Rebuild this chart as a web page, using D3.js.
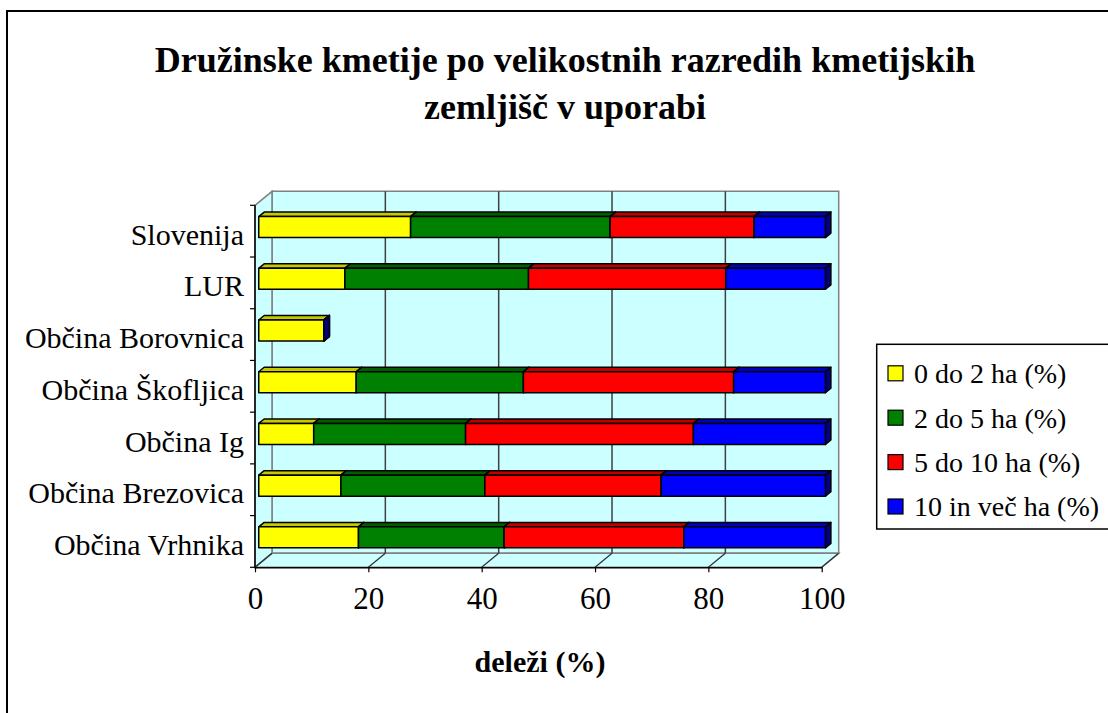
<!DOCTYPE html>
<html>
<head>
<meta charset="utf-8">
<script src="https://cdn.jsdelivr.net/npm/d3@7"></script>
<style>
  body { margin: 0; background: #fff; }
  text { font-family: "Liberation Serif", "Times New Roman", serif; }
</style>
</head>
<body>
<div id="chart"></div>
<script>
// podatki
var kategorije = ["Slovenija", "LUR", "Občina Borovnica", "Občina Škofljica", "Občina Ig", "Občina Brezovica", "Občina Vrhnika"];
var serije = ["0 do 2 ha (%)", "2 do 5 ha (%)", "5 do 10 ha (%)", "10 in več ha (%)"];
var s0do2 = [26.8, 15.2, 11.5, 17.2, 9.7, 14.5, 17.6];
var s2do5 = [35.2, 32.4, 0, 29.5, 26.8, 25.4, 25.7];
var s5do10 = [25.4, 34.8, 0, 37.1, 40.2, 31.1, 31.7];
var s10vec = [12.6, 17.6, 0, 16.2, 23.3, 29.0, 25.0];
var xTicks = [0, 20, 40, 60, 80, 100];

var vrednosti = [s0do2, s2do5, s5do10, s10vec];
var barve = ["#FFFF00", "#008000", "#FF0000", "#0000FF"];
var barveVrh = ["#C8C800", "#005E00", "#C00000", "#0000C0"];
var barveStran = ["#8C8C00", "#004000", "#800000", "#000080"];

var width = 1108, height = 713;
var globina = { dx: 17, dy: -14 };   // premik zadnje stene
var d0 = 0.22, d1 = 0.54;            // globina stolpcev

var svg = d3.select("#chart").append("svg")
  .attr("width", width)
  .attr("height", height);

// okvir
svg.append("rect")
  .attr("x", 7).attr("y", 11)
  .attr("width", 1120).attr("height", 720)
  .attr("fill", "#fff")
  .attr("stroke", "#000")
  .attr("stroke-width", 2);

// naslov
svg.append("text")
  .attr("x", 565).attr("y", 72)
  .attr("text-anchor", "middle")
  .style("font-size", "36px").style("font-weight", "bold")
  .text("Družinske kmetije po velikostnih razredih kmetijskih");
svg.append("text")
  .attr("x", 565).attr("y", 119)
  .attr("text-anchor", "middle")
  .style("font-size", "36px").style("font-weight", "bold")
  .text("zemljišč v uporabi");

var x = d3.scaleLinear().domain([0, 100]).range([255, 821.7]);
var y = d3.scaleBand().domain(kategorije).range([205.3, 567.3]);

var x0 = x(0), x1 = x(100), yTop = y.range()[0], yBot = y.range()[1];
var gx = globina.dx, gy = globina.dy;

function poly(pts) { return "M" + pts.map(function (p) { return p.join(","); }).join("L") + "Z"; }

// stene
svg.append("path")
  .attr("d", poly([[x0 + gx, yTop + gy], [x1 + gx, yTop + gy], [x1 + gx, yBot + gy], [x0 + gx, yBot + gy]]))
  .attr("fill", "#CCFFFF").attr("stroke", "#808080").attr("stroke-width", 1.5);
svg.append("path")
  .attr("d", poly([[x0, yTop], [x0 + gx, yTop + gy], [x0 + gx, yBot + gy], [x0, yBot]]))
  .attr("fill", "#CCFFFF").attr("stroke", "#808080").attr("stroke-width", 1.5);
svg.append("path")
  .attr("d", poly([[x0, yBot], [x0 + gx, yBot + gy], [x1 + gx, yBot + gy], [x1, yBot]]))
  .attr("fill", "#CCFFFF").attr("stroke", "#808080").attr("stroke-width", 1.5);

// mreža
var mreza = svg.append("g");
xTicks.slice(1, -1).forEach(function (t) {
  mreza.append("line")
    .attr("x1", x(t) + gx).attr("x2", x(t) + gx)
    .attr("y1", yTop + gy).attr("y2", yBot + gy)
    .attr("stroke", "#404040").attr("stroke-width", 1.5);
});
xTicks.forEach(function (t) {
  mreza.append("line")
    .attr("x1", x(t)).attr("x2", x(t) + gx)
    .attr("y1", yBot).attr("y2", yBot + gy)
    .attr("stroke", "#303030").attr("stroke-width", 1.2);
});

// osi
var ejeX = d3.axisBottom(x).tickValues(xTicks).tickSize(5).tickSizeOuter(0);
var gX = svg.append("g").attr("transform", "translate(0," + yBot + ")").call(ejeX);
gX.attr("font-family", null);
gX.select(".domain").attr("stroke", "#000").attr("stroke-width", 1.5);
gX.selectAll(".tick line").attr("stroke", "#000").attr("stroke-width", 1.2);
gX.selectAll(".tick text")
  .attr("y", 20).attr("dy", "0.71em")
  .style("font-family", "'Liberation Serif', serif")
  .style("font-size", "31px").attr("fill", "#000");

var gY = svg.append("g").attr("transform", "translate(" + x0 + ",0)");
gY.append("line")
  .attr("x1", 0).attr("x2", 0).attr("y1", yTop).attr("y2", yBot)
  .attr("stroke", "#000").attr("stroke-width", 1.5);
kategorije.forEach(function (k, i) {
  gY.append("line")
    .attr("x1", -5).attr("x2", 0)
    .attr("y1", y(k)).attr("y2", y(k))
    .attr("stroke", "#000").attr("stroke-width", 1.2);
  gY.append("text")
    .attr("x", -11)
    .attr("y", y(k) + y.bandwidth() / 2 + 3)
    .attr("dy", "0.35em")
    .attr("text-anchor", "end")
    .style("font-size", "30px")
    .text(k);
});
gY.append("line")
  .attr("x1", -5).attr("x2", 0).attr("y1", yBot).attr("y2", yBot)
  .attr("stroke", "#000").attr("stroke-width", 1.2);

// stolpci
var visina = 21;
var stolpci = svg.append("g").attr("stroke", "#000").attr("stroke-width", 1.5).attr("stroke-linejoin", "round");
kategorije.forEach(function (k, i) {
  var cy = y(k) + y.bandwidth() / 2 + gy * d0 - 1;
  var yt = cy - visina / 2, yb = cy + visina / 2;
  var ox = gx * d0;
  var ddx = gx * (d1 - d0), ddy = gy * (d1 - d0);
  var zac = 0;
  vrednosti.forEach(function (ser, j) {
    var kon = zac + ser[i];
    var xa = x(zac) + ox, xb = x(kon) + ox;
    stolpci.append("path")
      .attr("d", poly([[xa, yt], [xa + ddx, yt + ddy], [xb + ddx, yt + ddy], [xb, yt]]))
      .attr("fill", barveVrh[j]);
    stolpci.append("path")
      .attr("d", poly([[xb, yt], [xb + ddx, yt + ddy], [xb + ddx, yb + ddy], [xb, yb]]))
      .attr("fill", barveStran[j]);
    stolpci.append("rect")
      .attr("x", xa).attr("y", yt)
      .attr("width", Math.max(0, xb - xa)).attr("height", visina)
      .attr("fill", barve[j]);
    zac = kon;
  });
});

// naslov osi
svg.append("text")
  .attr("x", 540).attr("y", 672)
  .attr("text-anchor", "middle")
  .style("font-size", "30px").style("font-weight", "bold")
  .text("deleži (%)");

// legenda
var leg = svg.append("g");
leg.append("rect")
  .attr("x", 876.7).attr("y", 344.3)
  .attr("width", 260).attr("height", 184.7)
  .attr("fill", "#fff").attr("stroke", "#000").attr("stroke-width", 1.5);
serije.forEach(function (s, j) {
  var cy = 373.3 + j * 44.4;
  leg.append("rect")
    .attr("x", 888).attr("y", cy - 7.5)
    .attr("width", 15).attr("height", 15)
    .attr("fill", barve[j]).attr("stroke", "#000").attr("stroke-width", 1.2);
  leg.append("text")
    .attr("x", 914).attr("y", cy)
    .attr("dy", "0.35em")
    .style("font-size", "28px")
    .text(s);
});
</script>
</body>
</html>
